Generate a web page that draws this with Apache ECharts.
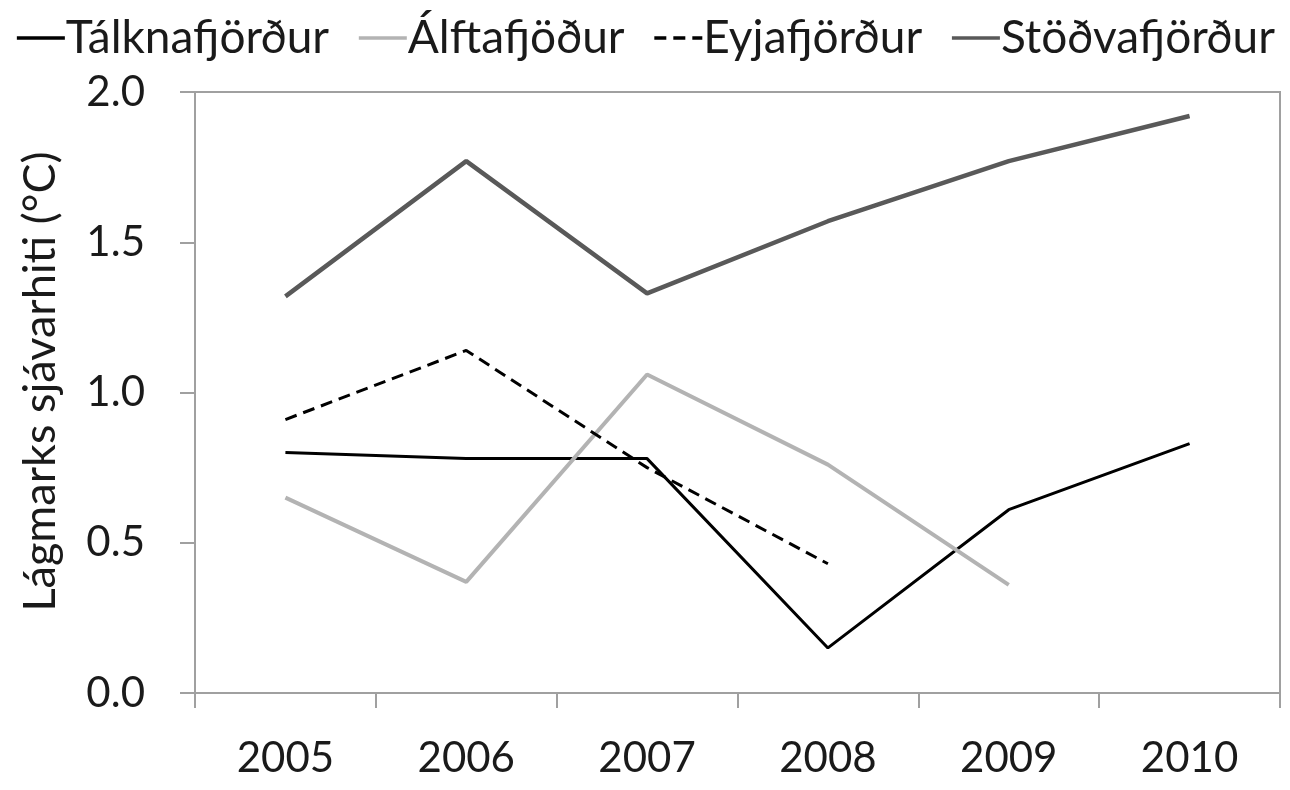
<!DOCTYPE html>
<html>
<head>
<meta charset="utf-8">
<script src="https://cdn.jsdelivr.net/npm/echarts@6/dist/echarts.min.js"></script>
<style>
  html, body { margin: 0; padding: 0; background: #fff; }
  #chart { width: 1290px; height: 790px; }
</style>
</head>
<body>
<div id="chart"></div>
<script>
// ár og lágmarkshiti sjávar (°C)
var years = ['2005', '2006', '2007', '2008', '2009', '2010'];
var talknafjordur = [0.80, 0.78, 0.78, 0.15, 0.61, 0.83];
var alftafjodur = [0.65, 0.37, 1.06, 0.76, 0.36, null];
var eyjafjordur = [0.91, 1.14, 0.75, 0.43, null, null];
var stodvafjordur = [1.32, 1.77, 1.33, 1.57, 1.77, 1.92];
var yTicks = { min: 0, max: 2, interval: 0.5 };

var font = 'Lato';
var axisGray = '#a0a0a0';
var textColor = '#1a1a1a';

var chart = echarts.init(document.getElementById('chart'));

function line(name, data, color, width, type) {
    return {
        name: name,
        type: 'line',
        data: data,
        symbol: 'none',
        connectNulls: false,
        animation: false,
        lineStyle: { color: color, width: width, type: type || 'solid' },
        itemStyle: { color: color }
    };
}

chart.setOption({
    animation: false,
    textStyle: { fontFamily: font, color: textColor },
    legend: {
        top: 10,
        left: 'center',
        itemWidth: 48,
        itemHeight: 14,
        itemGap: 28,
        itemStyle: { opacity: 0 },
        lineStyle: { width: 3.5 },
        textStyle: { fontFamily: font, fontSize: 46, color: textColor, padding: [0, 0, 0, -4] },
        data: ['Tálknafjörður', 'Álftafjöður', 'Eyjafjörður', 'Stöðvafjörður']
    },
    grid: {
        left: 195, right: 10, top: 92, bottom: 97,
        show: true, borderColor: axisGray, borderWidth: 2, backgroundColor: '#fff'
    },
    xAxis: {
        type: 'category',
        data: years,
        boundaryGap: true,
        axisLine: { lineStyle: { color: axisGray, width: 2 } },
        axisTick: { show: true, length: 15, interval: 0, lineStyle: { color: axisGray, width: 2 } },
        axisLabel: { fontFamily: font, fontSize: 42, color: textColor, margin: 44 },
        splitLine: { show: false }
    },
    yAxis: {
        type: 'value',
        min: yTicks.min,
        max: yTicks.max,
        interval: yTicks.interval,
        name: 'Lágmarks sjávarhiti (°C)',
        nameLocation: 'middle',
        nameGap: 132,
        nameTextStyle: { fontFamily: font, fontSize: 45, color: textColor, padding: [0, 0, 0, 22] },
        axisLine: { show: true, lineStyle: { color: axisGray, width: 2 } },
        axisTick: { show: true, length: 15, lineStyle: { color: axisGray, width: 2 } },
        axisLabel: {
            fontFamily: font, fontSize: 42, color: textColor, margin: 50,
            formatter: function (v) { return v.toFixed(1); }
        },
        splitLine: { show: false }
    },
    series: [
        line('Tálknafjörður', talknafjordur, '#000000', 3),
        line('Álftafjöður', alftafjodur, '#b3b3b3', 4),
        line('Eyjafjörður', eyjafjordur, '#000000', 3, [12, 7]),
        line('Stöðvafjörður', stodvafjordur, '#595959', 4.5)
    ]
});
</script>
</body>
</html>
